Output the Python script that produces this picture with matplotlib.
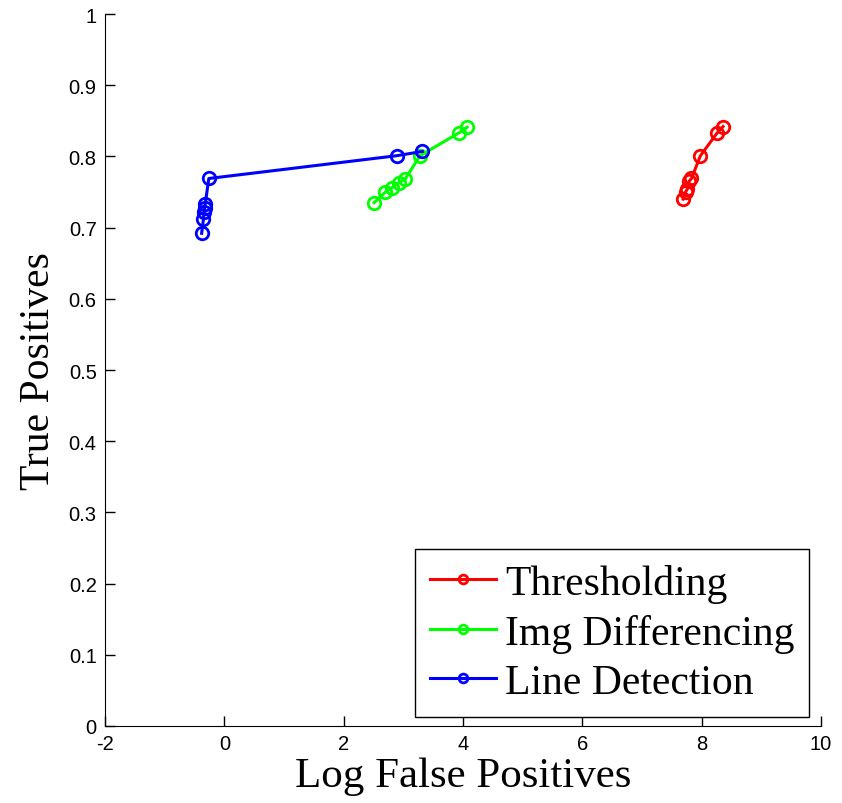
import matplotlib
matplotlib.use("Agg")
import matplotlib.pyplot as plt

thr_x = [7.69, 7.73, 7.76, 7.79, 7.83, 7.98, 8.26, 8.36]
thr_y = [0.740, 0.750, 0.754, 0.765, 0.769, 0.801, 0.833, 0.842]
img_x = [2.51, 2.70, 2.81, 2.92, 3.03, 3.28, 3.93, 4.07]
img_y = [0.735, 0.750, 0.756, 0.763, 0.768, 0.801, 0.833, 0.841]
line_x = [-0.38, -0.35, -0.34, -0.33, -0.32, -0.26, 2.89, 3.32]
line_y = [0.692, 0.712, 0.722, 0.728, 0.733, 0.769, 0.801, 0.807]
labels = ["Thresholding", "Img Differencing", "Line Detection"]
xticks = [-2, 0, 2, 4, 6, 8, 10]
yticks = [0, 0.1, 0.2, 0.3, 0.4, 0.5, 0.6, 0.7, 0.8, 0.9, 1]
ytick_labels = ["0", "0.1", "0.2", "0.3", "0.4", "0.5", "0.6", "0.7", "0.8", "0.9", "1"]

fig = plt.figure(figsize=(8.42, 8.04), dpi=100)
ax = fig.add_axes([0.1247, 0.0958, 0.8503, 0.8855])

kw = dict(marker='o', markerfacecolor='none', markersize=9, markeredgewidth=2, linewidth=2.2)
ax.plot(thr_x, thr_y, color='#ff0000', label=labels[0], **kw)
ax.plot(img_x, img_y, color='#00ff00', label=labels[1], **kw)
ax.plot(line_x, line_y, color='#0000ff', label=labels[2], **kw)

ax.set_xlim(-2, 10)
ax.set_ylim(0, 1)
ax.set_xticks(xticks)
ax.set_xticklabels([str(t) for t in xticks])
ax.set_yticks(yticks)
ax.set_yticklabels(ytick_labels)
for lab in ax.get_xticklabels() + ax.get_yticklabels():
    lab.set_fontfamily('Liberation Sans')
    lab.set_fontsize(14.5)
ax.tick_params(direction='in', length=7, width=1, pad=6)
ax.spines['top'].set_visible(False)
ax.spines['right'].set_visible(False)

ax.set_xlabel("Log False Positives", fontfamily='Liberation Serif', fontsize=31, labelpad=2)
ax.set_ylabel("True Positives", fontfamily='Liberation Serif', fontsize=30, labelpad=8)

leg = ax.legend(loc='lower right', prop={'family': 'Liberation Serif', 'size': 30},
                frameon=True, fancybox=False, edgecolor='black', framealpha=1,
                bbox_to_anchor=(0.9835, 0.0125), borderaxespad=0,
                handlelength=1.6, handletextpad=0.2, markerscale=0.7,
                labelspacing=0.26, borderpad=0.36)
leg.get_frame().set_linewidth(1)

fig.savefig("out.png", dpi=100)
